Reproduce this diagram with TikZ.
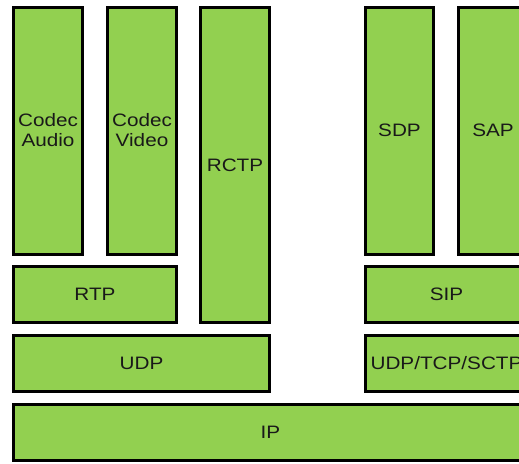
\documentclass[tikz,border=0pt]{standalone}
\usepackage{fontspec}
\setmainfont{Liberation Sans}
\usepackage{tikz}
\definecolor{layergreen}{HTML}{92D050}
\newcommand{\wide}[1]{\scalebox{1.15}[1]{#1}}
\tikzset{
    layer/.style={draw=black, line width=3pt, fill=layergreen, inner sep=0pt,
        align=center, font=\fontsize{18}{20}\selectfont, text=black!90}
}

\begin{document}
\begin{tikzpicture}[x=1pt, y=-1pt]
    % Page frame and clip (boxes run off the right edge)
    \useasboundingbox (0,0) rectangle (519,463);
    \clip (0,0) rectangle (519,463);

    % Upper application layers
    \node[layer, minimum width=69pt, minimum height=247pt] (codecaudio) at (48,130.5) {\wide{Codec}\\\wide{Audio}};
    \node[layer, minimum width=69pt, minimum height=247pt] (codecvideo) at (142,130.5) {\wide{Codec}\\\wide{Video}};
    \node[layer, minimum width=69pt, minimum height=315pt] (rctp) at (235,165) {\wide{RCTP}};
    \node[layer, minimum width=68pt, minimum height=247pt] (sdp) at (399.5,130.5) {\wide{SDP}};
    \node[layer, minimum width=69pt, minimum height=247pt] (sap) at (493,130.5) {\wide{SAP}};

    % Session / transport layers
    \node[layer, minimum width=163pt, minimum height=56pt] (rtp) at (95,294.5) {\wide{RTP}};
    \node[layer, minimum width=162pt, minimum height=56pt] (sip) at (446.5,294.5) {\wide{SIP}};
    \node[layer, minimum width=256pt, minimum height=56pt] (udp) at (141.5,363.5) {\wide{UDP}};
    \node[layer, minimum width=162pt, minimum height=56pt] (udptcp) at (446.5,363.5) {\wide{UDP/TCP/SCTP}};

    % Network layer
    \node[layer, minimum width=514pt, minimum height=56pt] (ip) at (270.5,432.5) {\wide{IP}};
\end{tikzpicture}
\end{document}
